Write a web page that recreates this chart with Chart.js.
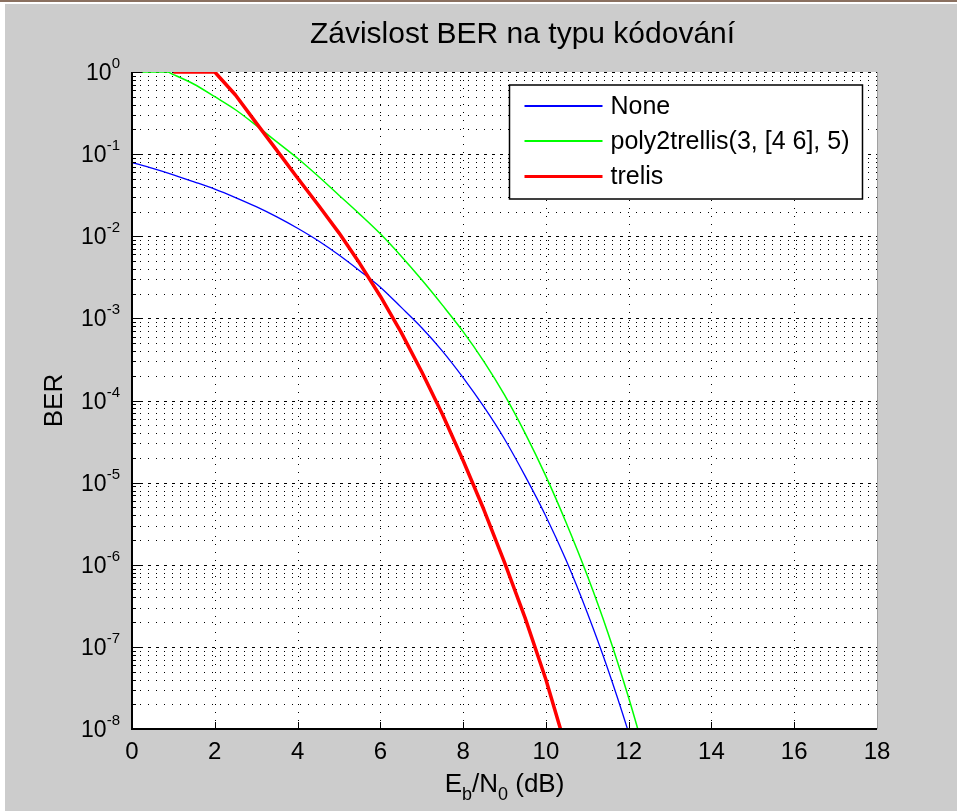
<!DOCTYPE html>
<html><head><meta charset="utf-8">
<script src="https://cdn.jsdelivr.net/npm/chart.js@4.4.1/dist/chart.umd.min.js"></script>
<style>html,body{margin:0;padding:0;background:#cccccc;overflow:hidden}#wrap{width:957px;height:811px;position:relative}canvas{display:block}</style>
</head><body><div id="wrap"><canvas id="c" width="957" height="811"></canvas></div>
<script>
// ---- text ----
const chartTitle = 'Závislost BER na typu kódování';
const yAxisTitle = 'BER';
const xAxisTitleParts = [['E', false], ['b', true], ['/N', false], ['0', true], [' (dB)', false]];
const seriesLabels = ['None', 'poly2trellis(3, [4 6], 5)', 'trelis'];
const seriesColors = ['#0000ff', '#00ff00', '#ff0000'];

// ---- ticks ----
const xTicks = [0, 2, 4, 6, 8, 10, 12, 14, 16, 18];
const yTicks = [1e-8, 1e-7, 1e-6, 1e-5, 1e-4, 1e-3, 1e-2, 1e-1, 1];

// ---- data ----
const ebnoNone = [0, 0.5, 1, 1.5, 2, 2.5, 3, 3.5, 4, 4.5, 5, 5.5, 6, 6.5, 7, 7.5, 8, 8.5, 9, 9.5, 10, 10.5, 11, 11.5, 12, 12.5];
const berNone = [0.079, 0.067, 0.056, 0.046, 0.0375, 0.0296, 0.0229, 0.0172, 0.0125, 0.0088, 0.0059, 0.0038, 0.0024, 0.00137, 7.7e-4, 4.0e-4, 1.9e-4, 8.4e-5, 3.4e-5, 1.2e-5, 3.9e-6, 1.1e-6, 2.6e-7, 5.3e-8, 9.0e-9, 1.3e-9];

const ebnoPoly = [0.25, 0.85, 1, 1.5, 2, 2.5, 3, 3.5, 4, 4.5, 5, 5.5, 6, 6.5, 7, 7.5, 8, 8.5, 9, 9.5, 10, 10.5, 11, 11.5, 12, 12.5];
const berPoly = [1, 1, 0.93, 0.71, 0.5, 0.347, 0.224, 0.141, 0.089, 0.0537, 0.0316, 0.0186, 0.0107, 0.00575, 0.00295, 0.00145, 6.9e-4, 3.0e-4, 1.17e-4, 3.98e-5, 1.2e-5, 3.16e-6, 7.4e-7, 1.48e-7, 2.4e-8, 3.2e-9];

const ebnoTrelis = [1, 1.5, 2, 2.5, 3, 3.5, 4, 4.5, 5, 5.5, 6, 6.5, 7, 7.5, 8, 8.5, 9, 9.5, 10, 10.5];
const berTrelis = [1, 1, 1, 0.525, 0.24, 0.111, 0.0513, 0.024, 0.011, 0.00468, 0.00186, 6.8e-4, 2.24e-4, 6.8e-5, 1.86e-5, 4.7e-6, 1.07e-6, 2.24e-7, 4.0e-8, 5.6e-9];

const FONT = '"Liberation Sans", Arial, Helvetica, sans-serif';

function pts(xs, ys) { return xs.map((x, i) => ({ x: x, y: ys[i] })); }

function hline(ctx, x1, x2, y) { ctx.beginPath(); ctx.moveTo(x1, y); ctx.lineTo(x2, y); ctx.stroke(); }
function vline(ctx, x, y1, y2) { ctx.beginPath(); ctx.moveTo(x, y1); ctx.lineTo(x, y2); ctx.stroke(); }

const matlabPlugin = {
  id: 'matlab',
  beforeDraw(chart) {
    const { ctx, chartArea: a } = chart;
    const xs = chart.scales.x, ys = chart.scales.y;
    ctx.save();
    ctx.fillStyle = '#cccccc';
    ctx.fillRect(0, 0, chart.width, chart.height);
    // window edge
    ctx.fillStyle = '#ffffff';
    ctx.fillRect(0, 0, chart.width, 4);
    ctx.fillRect(0, 0, 5, chart.height);
    ctx.fillStyle = '#8a7060';
    ctx.fillRect(0, 0, chart.width, 2);
    // axes background
    ctx.fillStyle = '#ffffff';
    ctx.fillRect(a.left, a.top, a.right - a.left, a.bottom - a.top);
    // grid
    ctx.strokeStyle = '#000000';
    ctx.lineWidth = 1;
    ctx.setLineDash([1, 7]);
    for (let e = -8; e < 0; e++) {
      for (let k = 2; k <= 9; k++) {
        const py = Math.round(ys.getPixelForValue(k * Math.pow(10, e))) + 0.5;
        hline(ctx, a.left, a.right, py);
      }
    }
    xTicks.forEach(v => {
      if (v <= xs.min) return;
      const px = Math.round(xs.getPixelForValue(v)) + 0.5;
      vline(ctx, px, a.top, a.bottom);
    });
    ctx.setLineDash([3, 5]);
    yTicks.forEach(v => {
      if (v <= ys.min) return;
      const py = Math.round(ys.getPixelForValue(v)) + 0.5;
      hline(ctx, a.left, a.right, py);
    });
    ctx.restore();
  },
  afterDatasetsDraw(chart) {
    const { ctx, chartArea: a } = chart;
    const xs = chart.scales.x, ys = chart.scales.y;
    ctx.save();
    ctx.setLineDash([]);
    ctx.strokeStyle = '#000000';
    // tick marks
    ctx.lineWidth = 1;
    xTicks.forEach(v => {
      const px = Math.round(xs.getPixelForValue(v)) + 0.5;
      vline(ctx, px, a.bottom, a.bottom - 7);
    });
    for (let e = -8; e < 0; e++) {
      for (let k = 2; k <= 9; k++) {
        const py = Math.round(ys.getPixelForValue(k * Math.pow(10, e))) + 0.5;
        hline(ctx, a.left, a.left + 4, py);
      }
    }
    yTicks.forEach(v => {
      const py = Math.round(ys.getPixelForValue(v)) + 0.5;
      hline(ctx, a.left, a.left + 8, py);
    });
    // axes lines
    ctx.lineWidth = 2;
    vline(ctx, a.left, a.top, a.bottom + 1);
    hline(ctx, a.left - 1, a.right, a.bottom);
    ctx.lineWidth = 1;
    ctx.strokeStyle = '#a0a0a0';
    vline(ctx, Math.round(a.right) + 0.5, a.top, a.bottom);

    // x tick labels
    ctx.fillStyle = '#000000';
    ctx.font = '24px ' + FONT;
    ctx.textAlign = 'center';
    ctx.textBaseline = 'alphabetic';
    xTicks.forEach(v => {
      ctx.fillText(String(v), xs.getPixelForValue(v), a.bottom + 30);
    });
    // y tick labels 10^n
    yTicks.forEach(v => {
      const py = ys.getPixelForValue(v);
      const ex = String(Math.round(Math.log10(v)));
      ctx.font = '15px ' + FONT;
      const ws = ctx.measureText(ex).width;
      ctx.font = '23px ' + FONT;
      const wb = ctx.measureText('10').width;
      const right = a.left - 12;
      ctx.textAlign = 'left';
      ctx.fillText('10', right - ws - wb, py + 8);
      ctx.font = '15px ' + FONT;
      ctx.fillText(ex, right - ws, py - 4);
    });

    // axis titles
    let total = 0;
    xAxisTitleParts.forEach(p => { ctx.font = (p[1] ? '18px ' : '26px ') + FONT; total += ctx.measureText(p[0]).width; });
    let cx = (a.left + a.right) / 2 - total / 2;
    const by = a.bottom + 63;
    xAxisTitleParts.forEach(p => {
      ctx.font = (p[1] ? '18px ' : '26px ') + FONT;
      ctx.textAlign = 'left';
      ctx.fillText(p[0], cx, p[1] ? by + 8 : by);
      cx += ctx.measureText(p[0]).width;
    });
    ctx.save();
    ctx.translate(62, (a.top + a.bottom) / 2);
    ctx.rotate(-Math.PI / 2);
    ctx.font = '26px ' + FONT;
    ctx.textAlign = 'center';
    ctx.fillText(yAxisTitle, 0, 0);
    ctx.restore();

    // title
    ctx.font = '30px ' + FONT;
    ctx.textAlign = 'center';
    ctx.fillText(chartTitle, (a.left + a.right) / 2 + 18, 43);

    // legend
    ctx.font = '25px ' + FONT;
    let maxW = 0;
    seriesLabels.forEach(s => { maxW = Math.max(maxW, ctx.measureText(s).width); });
    const lRight = a.right - 15, lTop = a.top + 13;
    const lW = 101 + maxW + 13, lH = 114;
    const lLeft = Math.round(lRight - lW) + 0.5;
    ctx.fillStyle = '#ffffff';
    ctx.fillRect(lLeft, lTop, lW, lH);
    ctx.strokeStyle = '#000000';
    ctx.lineWidth = 1.5;
    ctx.strokeRect(lLeft, lTop, lW, lH);
    const rows = [lTop + 21, lTop + 56, lTop + 91];
    const widths = [2, 2, 3];
    chart.data.datasets.forEach((ds, i) => {
      ctx.strokeStyle = ds.borderColor;
      ctx.lineWidth = widths[i];
      hline(ctx, lLeft + 15, lLeft + 93, Math.round(rows[i]) + (widths[i] % 2 ? 0.5 : 0));
      ctx.fillStyle = '#000000';
      ctx.textAlign = 'left';
      ctx.textBaseline = 'middle';
      ctx.fillText(ds.label, lLeft + 101, rows[i] + 1);
    });
    ctx.restore();
  }
};

new Chart(document.getElementById('c'), {
  type: 'line',
  data: {
    datasets: [
      { label: seriesLabels[0], data: pts(ebnoNone, berNone), borderColor: seriesColors[0], borderWidth: 1.3, order: 2, cubicInterpolationMode: 'monotone' },
      { label: seriesLabels[1], data: pts(ebnoPoly, berPoly), borderColor: seriesColors[1], borderWidth: 1.5, order: 1, cubicInterpolationMode: 'monotone' },
      { label: seriesLabels[2], data: pts(ebnoTrelis, berTrelis), borderColor: seriesColors[2], borderWidth: 3.5, order: 0 }
    ]
  },
  options: {
    responsive: false,
    animation: false,
    events: [],
    layout: { padding: { top: 72, right: 80, left: 0, bottom: 0 } },
    elements: { point: { radius: 0 }, line: { tension: 0, borderJoinStyle: 'round', borderCapStyle: 'butt', fill: false } },
    plugins: { legend: { display: false }, title: { display: false }, tooltip: { enabled: false } },
    scales: {
      x: {
        type: 'linear', min: 0, max: 18,
        ticks: { display: false, stepSize: 2 },
        grid: { display: false }, border: { display: false },
        afterFit(scale) { scale.height = 82; }
      },
      y: {
        type: 'logarithmic', min: 1e-8, max: 1,
        ticks: { display: false },
        grid: { display: false }, border: { display: false },
        afterFit(scale) { scale.width = 132; }
      }
    }
  },
  plugins: [matlabPlugin]
});
</script>
</body></html>
